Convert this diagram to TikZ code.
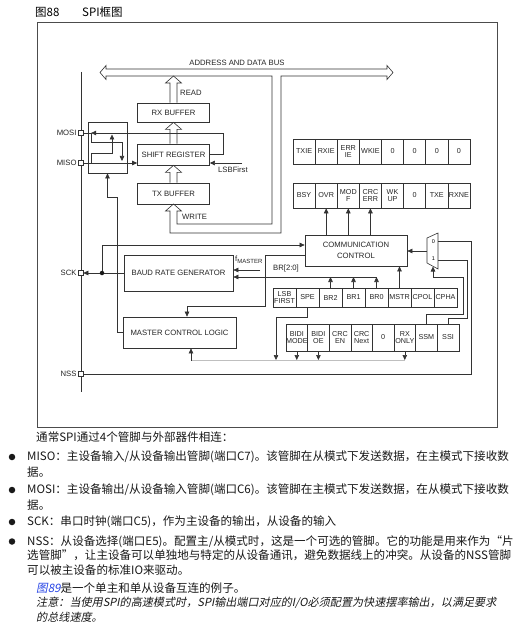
\documentclass[tikz,border=0pt]{standalone}
\usepackage{fontspec}
\setmainfont{Liberation Sans}
\newfontfamily\cjk{Noto Sans CJK SC}
\newfontfamily\cjkit[FakeSlant=0.2]{Noto Sans CJK SC}
\usetikzlibrary{arrows.meta,calc,positioning}
\definecolor{linkblue}{RGB}{40,70,230}

\tikzset{
  box/.style={draw=black!80, line width=0.7pt, inner sep=0pt, align=center,
    font=\fontsize{7.7}{11}\selectfont, text=black!85},
  cell/.style={draw=black!80, line width=0.6pt, inner sep=0pt, align=center,
    font=\fontsize{7.2}{7.4}\selectfont, text=black!85},
  pin/.style={draw=black!80, fill=white, line width=0.6pt, minimum size=5pt, inner sep=0pt},
  wire/.style={draw=black!80, line width=0.6pt},
  arr/.style={wire, -{Triangle[length=5pt,width=4.5pt]}},
  lbl/.style={font=\fontsize{7.7}{9}\selectfont, inner sep=0pt, text=black!85},
  body/.style={font=\cjk\fontsize{11.55}{13}\selectfont, inner sep=0pt, anchor=west, text=black!90},
  note/.style={body, font=\cjkit\fontsize{11.1}{13}\selectfont},
  dot/.style={circle, fill=black!90, minimum size=6.5pt, inner sep=0pt},
}

% hollow arrow from (#1) up to (#2)
\newcommand\hollowup[2]{%
  \draw[wire, fill=white] let \p1=(#1), \p2=(#2) in
    (\x1-3.5pt,\y1) -- (\x1-3.5pt,\y2-7pt) -- (\x1-8pt,\y2-7pt) -- (\x1,\y2)
    -- (\x1+8pt,\y2-7pt) -- (\x1+3.5pt,\y2-7pt) -- (\x1+3.5pt,\y1);}

\begin{document}
\begin{tikzpicture}[x=1pt,y=-1pt]
  \useasboundingbox (0,0) rectangle (521,631);
  \fill[white] (0,0) rectangle (521,631);

  % title and frame
  \node[font=\cjk\fontsize{11.5}{13}\selectfont, anchor=west, inner sep=0pt] (fignum) at (35,12) {图88};
  \node[font=\cjk\fontsize{11.5}{13}\selectfont, anchor=west, inner sep=0pt] (figtitle) at (82,12) {SPI框图};
  \draw[black!70, line width=0.8pt] (37,22) rectangle (497,427);

  % address and data bus
  \draw[wire, fill=white] (100,72.5) -- (106,65.5) -- (106,69) -- (387,69) -- (387,65.5)
    -- (393,72.5) -- (387,79.5) -- (387,76) -- (281,76) -- (281,233) -- (170,233)
    -- (170,211) -- (165.5,211) -- (173.5,204) -- (181.5,211) -- (177,211) -- (177,224)
    -- (272,224) -- (272,76) -- (106,76) -- (106,79.5) -- cycle;
  \node[lbl] (buslbl) at (237,63) {ADDRESS AND DATA BUS};

  % buffers
  \node[box, minimum width=72pt, minimum height=19pt] (rxbuf) at (173.5,112.5) {RX BUFFER};
  \node[box, minimum width=72pt, minimum height=21pt] (shiftreg) at (173.5,154.5) {SHIFT REGISTER};
  \node[box, minimum width=72pt, minimum height=21pt] (txbuf) at (173.5,193.5) {TX BUFFER};
  \coordinate (busread) at (173.5,76);
  \hollowup{rxbuf.north}{busread}
  \hollowup{shiftreg.north}{rxbuf.south}
  \hollowup{txbuf.north}{shiftreg.south}
  \node[lbl, anchor=west] (readlbl) at (180,93) {READ};
  \node[lbl, anchor=west] (writelbl) at (182,217) {WRITE};
  \coordinate (lsbin) at (242,163);
  \draw[arr] (lsbin) -- (lsbin -| shiftreg.east);
  \node[lbl, anchor=west] (lsblbl) at (218,169.5) {LSBFirst};

  % pins
  \draw[wire] (81,72) -- (81,392);
  \node[pin, label={[lbl, xshift=-1pt]left:MOSI}] (mosi) at (80.5,133) {};
  \node[pin, label={[lbl, xshift=-1pt]left:MISO}] (miso) at (80.5,163) {};
  \node[pin, label={[lbl, xshift=-1pt]left:SCK}] (sck) at (80.5,273) {};
  \node[pin, label={[lbl, xshift=-1pt]left:NSS}] (nss) at (80.5,374) {};

  % switch box
  \node[box, minimum width=39pt, minimum height=51pt] (swbox) at (107.5,147.5) {};
  \coordinate (loop) at (223,133);
  \draw[arr] (shiftreg.east) -| (loop) -- ([xshift=3.5pt]loop -| swbox.west);
  \draw[wire] (mosi.east) -- ([xshift=4pt]mosi.east -| swbox.west);
  \draw[arr] (miso.east) -- (miso.east -| shiftreg.west);
  \draw[arr] (91.5,133) |- (122,142.5) -- (122,161);
  \draw[arr] (91.5,163) |- (112,153.5) -- (112,134.5);

  % baud rate and master control
  \node[box, minimum width=109pt, minimum height=36pt] (brg) at (178.5,273) {BAUD RATE GENERATOR};
  \node[box, minimum width=113pt, minimum height=31pt] (mcl) at (179.5,332.5) {MASTER CONTROL LOGIC};
  \node[box, minimum width=102pt, minimum height=31pt] (cc) at (356,250.5) {COMMUNICATION\\CONTROL};
  \coordinate (sckdot) at (102,273);
  \draw[arr] (brg.west) -- (sck.east);
  \node[dot, minimum size=4.5pt] (sckjoin) at (sckdot) {};
  \draw[arr] (sckjoin) |- ([yshift=5.5pt]cc.west);
  \draw[arr] ([yshift=-4.5pt]cc.west) -| (265,306) -| ([xshift=7.5pt]mcl.north);
  \draw[arr] (mcl.west) -| (117,197) -- (107.5,197) -- (swbox.south);
  \coordinate (fmaster) at (260,270);
  \draw[arr] (fmaster) -- (fmaster -| brg.east);
  \node[lbl, anchor=west] (fmlbl) at (235,260) {f\raisebox{-2pt}{\fontsize{6}{6}\selectfont MASTER}};
  \node[lbl, anchor=west] (brlbl) at (273,269) {BR[2:0]};

  % registers
  \foreach \t [count=\i] in {TXIE,RXIE,{ERR\\IE},WKIE,0,0,0,0}
    \node[cell, minimum width=22.12pt, minimum height=25pt] (cr2-\i) at (281.94+22.12*\i,151.5) {\t};
  \foreach \t [count=\i] in {BSY,OVR,{MOD\\F},{CRC\\ERR},{WK\\UP},0,TXE,RXNE}
    \node[cell, minimum width=22.12pt, minimum height=25pt] (sr-\i) at (281.94+22.12*\i,195.5) {\t};
  \foreach \t [count=\i] in {{LSB\\FIRST},SPE,BR2,BR1,BR0,MSTR,CPOL,CPHA}
    \node[cell, minimum width=23pt, minimum height=19pt] (cr1a-\i) at (261.5+23*\i,297.5) {\t};
  \foreach \t [count=\i] in {{BIDI\\MODE},{BIDI\\OE},{CRC\\EN},{CRC\\Next},0,{RX\\ONLY},SSM,SSI}
    \node[cell, minimum width=21.6pt, minimum height=27pt] (cr1b-\i) at (275.2+21.6*\i,337.5) {\t};

  \foreach \i in {2,3,4}
    \draw[arr] (sr-\i.south |- cc.north) -- (sr-\i.south);
  \coordinate (brline) at (376,277);
  \draw[arr] (cr1a-5.north |- brline) -- (brline -| brg.east);
  \foreach \i in {3,4,5}
    \draw[arr] (cr1a-\i.north) -- (cr1a-\i.north |- brline);
  \draw[arr] (cr1a-6.north) -- (cr1a-6.north |- cc.south);

  \coordinate (ctlbus) at (191,360.5);
  \coordinate (spedown) at (276,360);
  \draw[black!25, line width=0.5pt] (ctlbus) -- (ctlbus -| cr1b-6.south);
  \foreach \i in {1,2,6}
    \draw[arr] (cr1b-\i.south) -- (cr1b-\i.south |- spedown);
  \draw[arr] (cr1a-2.south) -- ++(0,10) -| (spedown);
  \draw[arr] (ctlbus) -- (ctlbus |- mcl.south);

  % slave select multiplexer
  \coordinate (mux-a) at (427,238);
  \coordinate (mux-b) at (438,233);
  \coordinate (mux-c) at (438,269);
  \coordinate (mux-d) at (427,263);
  \draw[wire] (mux-a) -- (mux-b) -- (mux-c) -- (mux-d) -- cycle;
  \node[font=\fontsize{5.5}{6}\selectfont, inner sep=0pt] (mux0) at (433.5,241.5) {0};
  \node[font=\fontsize{5.5}{6}\selectfont, inner sep=0pt] (mux1) at (433.5,259) {1};
  \coordinate (muxout) at (427,251);
  \coordinate (muxin0) at (438,241);
  \coordinate (muxin1) at (438,260);
  \draw[arr] (muxout) -- (muxout -| cc.east);
  \draw[wire] (nss.east) -| ($(muxin0)+(33,0)$) -- (muxin0);
  \draw[wire] (cr1b-8.north) -- ++(0,-5) -| ($(muxin1)+(29,0)$) -- (muxin1);
  \draw[arr] (cr1b-7.north) -- ++(0,-9) -| ($(muxin1)+(25,17)$) -| (433,266.5);

  % text below the figure
  \node[body] (intro) at (36,437) {通常SPI通过4个管脚与外部器件相连：};
  \node[dot] (b1) at (12,457) {};
  \node[body] (miso1) at (27,457) {MISO：主设备输入/从设备输出管脚(端口C7)。该管脚在从模式下发送数据，在主模式下接收数};
  \node[body] (miso2) at (27,472) {据。};
  \node[dot] (b2) at (12,490) {};
  \node[body] (mosi1) at (27,490) {MOSI：主设备输出/从设备输入管脚(端口C6)。该管脚在主模式下发送数据，在从模式下接收数};
  \node[body] (mosi2) at (27,505) {据。};
  \node[dot] (b3) at (12,522) {};
  \node[body] (sck1) at (27,522) {SCK：串口时钟(端口C5)，作为主设备的输出，从设备的输入};
  \node[dot] (b4) at (12,541.5) {};
  \node[body] (nss1) at (27,541.5) {NSS：从设备选择(端口E5)。配置主/从模式时，这是一个可选的管脚。它的功能是用来作为“片};
  \node[body] (nss2) at (27,555.5) {选管脚”，让主设备可以单独地与特定的从设备通讯，避免数据线上的冲突。从设备的NSS管脚};
  \node[body] (nss3) at (27,570) {可以被主设备的标准IO来驱动。};
  \node[body] (fig89) at (36,588) {{\cjkit\color{linkblue}图89}是一个单主和单从设备互连的例子。};
  \node[note] (note1) at (36,603) {注意：当使用SPI的高速模式时，SPI输出端口对应的I/O必须配置为快速摆率输出，以满足要求};
  \node[note] (note2) at (36,617.5) {的总线速度。};
\end{tikzpicture}
\end{document}
